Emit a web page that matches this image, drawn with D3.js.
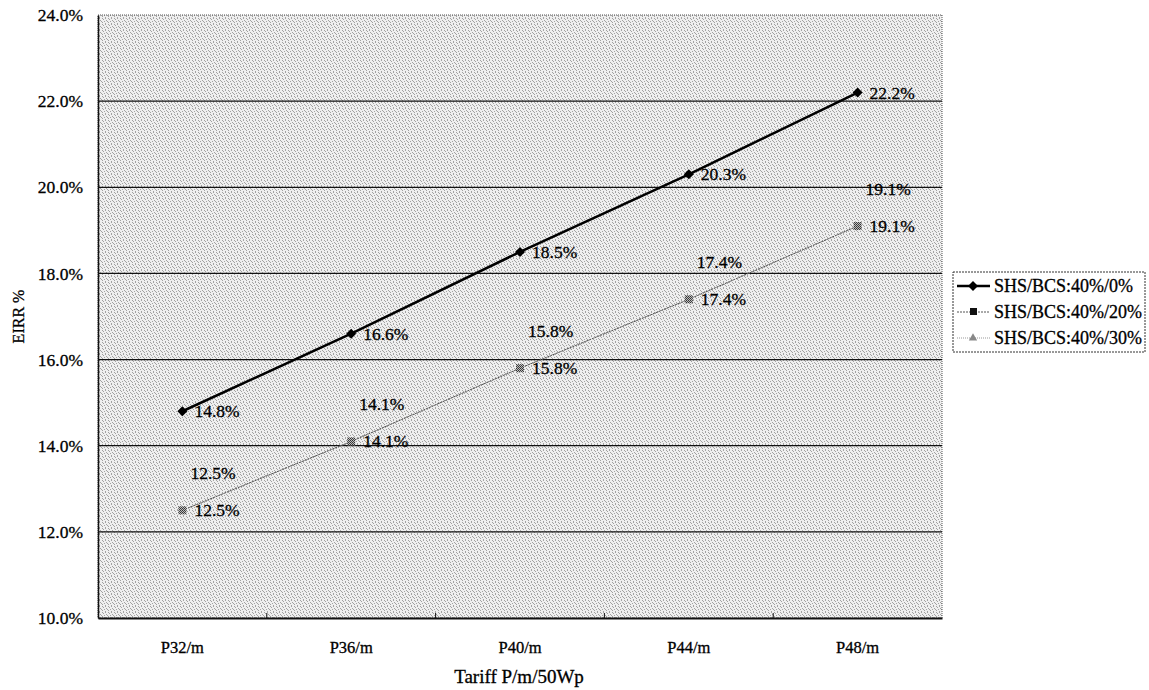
<!DOCTYPE html>
<html>
<head>
<meta charset="utf-8">
<script src="https://cdn.jsdelivr.net/npm/d3@7"></script>
<style>
  html, body { margin: 0; padding: 0; background: #fff; }
  svg text { font-family: "Liberation Serif", "Times New Roman", serif; fill: #000; stroke: #000; stroke-width: 0.3px; }
</style>
</head>
<body>
<svg id="chart" width="1149" height="690"></svg>
<script>
// Tariff levels and EIRR results
const tariffs = ["P32/m", "P36/m", "P40/m", "P44/m", "P48/m"];
const eirr40_0 = [14.8, 16.6, 18.5, 20.3, 22.2];
const eirr40_20 = [12.5, 14.1, 15.8, 17.4, 19.1];
const eirr40_30 = [12.5, 14.1, 15.8, 17.4, 19.1];
const seriesNames = ["SHS/BCS:40%/0%", "SHS/BCS:40%/20%", "SHS/BCS:40%/30%"];
const yTicks = [10, 12, 14, 16, 18, 20, 22, 24];

const svg = d3.select("#chart");
const plot = { left: 98, right: 942, top: 15, bottom: 618 };

const x = d3.scaleBand().domain(tariffs).range([plot.left, plot.right]);
const y = d3.scaleLinear().domain([10, 24]).range([plot.bottom, plot.top]);
const cx = d => x(d) + x.bandwidth() / 2;

// Stippled grey plot background
const defs = svg.append("defs");
const pat = defs.append("pattern").attr("id", "stipple")
  .attr("width", 6).attr("height", 6).attr("patternUnits", "userSpaceOnUse");
pat.append("rect").attr("width", 6).attr("height", 6).attr("fill", "#efefef");
[[0,0],[3,0],[1,1],[4,2],[2,3],[5,3],[0,4],[3,5]].forEach(([a,b]) =>
  pat.append("rect").attr("x", a).attr("y", b).attr("width", 1).attr("height", 1).attr("fill", "#a2a2a2"));
const sq = defs.append("pattern").attr("id", "sqfill")
  .attr("width", 2).attr("height", 2).attr("patternUnits", "userSpaceOnUse");
sq.append("rect").attr("width", 2).attr("height", 2).attr("fill", "#bbb");
sq.append("rect").attr("width", 1).attr("height", 1).attr("fill", "#333");
sq.append("rect").attr("x", 1).attr("y", 1).attr("width", 1).attr("height", 1).attr("fill", "#444");

svg.append("rect")
  .attr("x", plot.left).attr("y", plot.top)
  .attr("width", plot.right - plot.left).attr("height", plot.bottom - plot.top)
  .attr("fill", "url(#stipple)")
  .attr("stroke", "#555").attr("stroke-width", 1).attr("stroke-dasharray", "1,1");

// Horizontal gridlines
svg.append("g").selectAll("line").data(yTicks.filter(t => t > 10 && t < 24)).join("line")
  .attr("x1", plot.left).attr("x2", plot.right)
  .attr("y1", d => y(d)).attr("y2", d => y(d))
  .attr("stroke", "#111").attr("stroke-width", 1.2);

// Y axis
const yAxis = svg.append("g").attr("transform", `translate(${plot.left},0)`)
  .call(d3.axisLeft(y).tickValues(yTicks).tickFormat(d => d.toFixed(1) + "%").tickSize(0).tickPadding(15));
yAxis.select(".domain").attr("stroke", "#111").attr("stroke-width", 1.5);
yAxis.selectAll("text").style("font-size", "17.5px").style("font-family", "Liberation Serif");

// X axis with inward ticks at category boundaries
const xAxis = svg.append("g").attr("transform", `translate(0,${plot.bottom})`)
  .call(d3.axisBottom(x).tickSize(0).tickPadding(23));
xAxis.select(".domain").attr("stroke", "#111").attr("stroke-width", 2);
xAxis.selectAll("text").style("font-size", "16.5px").style("font-family", "Liberation Serif");
svg.append("g").selectAll("line").data(tariffs.slice(1)).join("line")
  .attr("x1", d => x(d)).attr("x2", d => x(d))
  .attr("y1", plot.bottom).attr("y2", plot.bottom - 5)
  .attr("stroke", "#111").attr("stroke-width", 1);

// Axis titles
svg.append("text").attr("x", 519).attr("y", 683)
  .attr("text-anchor", "middle").style("font-size", "19px").text("Tariff P/m/50Wp");
svg.append("text").attr("transform", `translate(24,${(plot.top + plot.bottom) / 2}) rotate(-90)`)
  .attr("text-anchor", "middle").style("font-size", "16px").text("EIRR %");

const line = d3.line().x((d, i) => cx(tariffs[i])).y(d => y(d));

// Series 40%/30% (drawn first, underneath)
svg.append("path").datum(eirr40_30).attr("d", line)
  .attr("fill", "none").attr("stroke", "#999").attr("stroke-width", 1).attr("stroke-dasharray", "1,1");
// Series 40%/20%
svg.append("path").datum(eirr40_20).attr("d", line)
  .attr("fill", "none").attr("stroke", "#555").attr("stroke-width", 1).attr("stroke-dasharray", "2,1");
svg.append("g").selectAll("rect").data(eirr40_20).join("rect")
  .attr("x", (d, i) => cx(tariffs[i]) - 4).attr("y", d => y(d) - 4)
  .attr("width", 8).attr("height", 8).attr("fill", "url(#sqfill)");
// Series 40%/0%
svg.append("path").datum(eirr40_0).attr("d", line)
  .attr("fill", "none").attr("stroke", "#000").attr("stroke-width", 2.5);
const diamond = d3.symbol().type(d3.symbolSquare).size(50);
svg.append("g").selectAll("path").data(eirr40_0).join("path")
  .attr("transform", (d, i) => `translate(${cx(tariffs[i])},${y(d)}) rotate(45)`)
  .attr("d", diamond).attr("fill", "#000");

// Data labels
const fmt = d => d.toFixed(1) + "%";
function labels(data, dx, dy) {
  svg.append("g").selectAll("text").data(data).join("text")
    .attr("x", (d, i) => cx(tariffs[i]) + dx).attr("y", d => y(d) + dy)
    .style("font-size", "17.5px").text(fmt);
}
labels(eirr40_0, 12, 6);
labels(eirr40_20, 12, 6);
labels(eirr40_30, 8, -31);

// Legend
const lg = svg.append("g").attr("transform", "translate(953,272)");
lg.append("rect").attr("width", 192).attr("height", 80)
  .attr("fill", "#fff").attr("stroke", "#333").attr("stroke-width", 1).attr("stroke-dasharray", "2,1");
const rowY = [14, 40, 66];
lg.append("line").attr("x1", 4).attr("x2", 37).attr("y1", rowY[0]).attr("y2", rowY[0])
  .attr("stroke", "#000").attr("stroke-width", 2.5);
lg.append("path").attr("transform", `translate(20,${rowY[0]}) rotate(45)`).attr("d", diamond).attr("fill", "#000");
lg.append("line").attr("x1", 4).attr("x2", 37).attr("y1", rowY[1]).attr("y2", rowY[1])
  .attr("stroke", "#555").attr("stroke-width", 1).attr("stroke-dasharray", "2,1");
lg.append("rect").attr("x", 17).attr("y", rowY[1] - 4).attr("width", 7).attr("height", 7).attr("fill", "#111");
lg.append("line").attr("x1", 4).attr("x2", 37).attr("y1", rowY[2]).attr("y2", rowY[2])
  .attr("stroke", "#999").attr("stroke-width", 1).attr("stroke-dasharray", "1,1");
lg.append("path").attr("transform", `translate(20,${rowY[2]})`)
  .attr("d", d3.symbol().type(d3.symbolTriangle).size(30)).attr("fill", "#888");
lg.selectAll("text.lbl").data(seriesNames).join("text").attr("class", "lbl")
  .attr("x", 41).attr("y", (d, i) => rowY[i] + 6)
  .style("font-size", "18px").text(d => d);
</script>
</body>
</html>
